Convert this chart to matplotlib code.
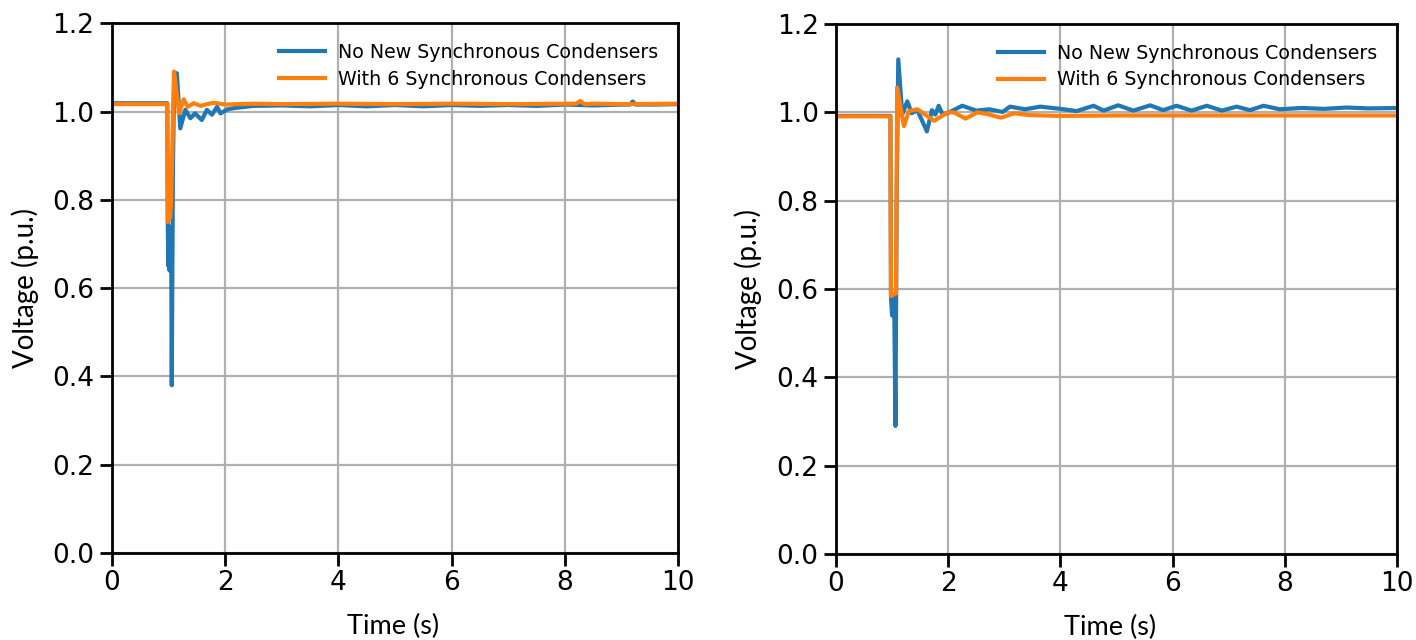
import matplotlib
matplotlib.use("Agg")
import matplotlib.pyplot as plt

# ---- data -------------------------------------------------------------------
labels = ["No New Synchronous Condensers", "With 6 Synchronous Condensers"]

# left panel
t_left_blue = [0.0, 0.98, 0.99, 1.00, 1.01, 1.02, 1.03, 1.04, 1.05, 1.06, 1.08, 1.10,
               1.15, 1.21, 1.30, 1.39, 1.47, 1.59, 1.68, 1.77, 1.86, 1.92, 2.04, 2.16,
               2.5, 3.0, 3.5, 4.0, 4.5, 5.0, 5.5, 6.0, 6.5, 7.0, 7.5, 8.0, 8.5, 9.0,
               9.15, 9.2, 9.25, 9.6, 10.0]
v_left_blue = [1.019, 1.019, 0.74, 0.65, 0.74, 0.64, 0.73, 0.65, 0.70, 0.38, 0.86, 1.06,
               1.087, 0.962, 1.004, 0.985, 0.996, 0.981, 1.004, 0.993, 1.011, 0.996, 1.005, 1.008,
               1.013, 1.014, 1.012, 1.015, 1.012, 1.015, 1.012, 1.015, 1.013, 1.015, 1.013, 1.016, 1.014, 1.016,
               1.016, 1.023, 1.016, 1.016, 1.017]
t_left_orange = [0.0, 0.98, 0.99, 1.03, 1.05, 1.10, 1.19, 1.27, 1.34, 1.45, 1.57, 1.68,
                 1.8, 2.0, 2.5, 3.0, 4.0, 5.0, 6.0, 7.0, 8.2, 8.27, 8.35, 8.5, 9.0, 10.0]
v_left_orange = [1.017, 1.017, 0.75, 0.76, 0.80, 1.091, 0.996, 1.028, 1.011, 1.019, 1.013, 1.017,
                 1.020, 1.016, 1.018, 1.017, 1.018, 1.017, 1.018, 1.017, 1.018, 1.024, 1.017, 1.018, 1.017, 1.018]

# right panel
t_right_blue = [0.0, 0.97, 0.98, 1.00, 1.02, 1.04, 1.06, 1.08, 1.11, 1.18, 1.27, 1.35,
                1.45, 1.62, 1.71, 1.77, 1.83, 1.90, 2.00, 2.25, 2.50, 2.73, 2.97, 3.10,
                3.37, 3.64, 4.0, 4.29, 4.59, 4.77, 5.03, 5.30, 5.60, 5.83, 6.07, 6.34,
                6.61, 6.88, 7.14, 7.38, 7.62, 7.91, 8.3, 8.7, 9.1, 9.5, 10.0]
v_right_blue = [0.992, 0.992, 0.58, 0.54, 0.58, 0.54, 0.29, 0.80, 1.12, 0.995, 1.025, 0.998,
                1.005, 0.957, 1.005, 0.995, 1.015, 0.995, 0.999, 1.015, 1.004, 1.007, 1.001, 1.013,
                1.007, 1.013, 1.008, 1.003, 1.015, 1.004, 1.016, 1.004, 1.016, 1.005, 1.015, 1.004,
                1.015, 1.004, 1.013, 1.005, 1.015, 1.007, 1.010, 1.008, 1.011, 1.009, 1.010]
t_right_orange = [0.0, 0.97, 0.98, 1.07, 1.09, 1.21, 1.30, 1.45, 1.75, 1.99, 2.10, 2.31,
                  2.52, 2.70, 2.94, 3.18, 3.42, 3.7, 4.0, 5.0, 6.0, 7.0, 8.0, 9.0, 10.0]
v_right_orange = [0.991, 0.991, 0.584, 0.59, 1.056, 0.969, 1.003, 1.007, 0.981, 1.000, 1.000, 0.986,
                  1.000, 0.996, 0.988, 0.998, 0.994, 0.993, 0.992, 0.993, 0.993, 0.993, 0.993, 0.993, 0.993]

xticks = [0, 2, 4, 6, 8, 10]
yticks = [0.0, 0.2, 0.4, 0.6, 0.8, 1.0, 1.2]

blue = "#1f77b4"
orange = "#ff7f0e"

fig = plt.figure(figsize=(14.16, 6.4), dpi=100)
ax1 = fig.add_axes([0.0789, 0.136, 0.400, 0.8275])
ax2 = fig.add_axes([0.5904, 0.1344, 0.3962, 0.828])

panels = [
    (ax1, t_left_blue, v_left_blue, t_left_orange, v_left_orange, -0.128, 0.497),
    (ax2, t_right_blue, v_right_blue, t_right_orange, v_right_orange, -0.132, 0.488),
]

for ax, tb, vb, to, vo, ylab_x, xlab_x in panels:
    ax.plot(tb, vb, color=blue, lw=3, label=labels[0])
    ax.plot(to, vo, color=orange, lw=3, label=labels[1])
    ax.set_xlim(0, 10)
    ax.set_ylim(0, 1.2)
    ax.set_xticks(xticks)
    ax.set_yticks(yticks)
    ax.set_yticklabels([f"{v:.1f}" for v in yticks])
    ax.grid(True, color="#b0b0b0", lw=1.6)
    ax.set_axisbelow(True)
    for sp in ax.spines.values():
        sp.set_linewidth(2)
        sp.set_color("black")
    ax.tick_params(labelsize=19, length=9, width=2, colors="black")
    ax.set_ylabel("Voltage (p.u.)", fontsize=20, family="Lato")
    ax.set_xlabel("Time (s)", fontsize=19.5, family="Lato")
    ax.yaxis.set_label_coords(ylab_x, 0.5)
    ax.xaxis.set_label_coords(xlab_x, -0.115)
    ax.legend(loc="upper right", frameon=False, fontsize=13.7,
              handlelength=2.4, handletextpad=0.7, labelspacing=0.4,
              bbox_to_anchor=(0.995, 0.995))

fig.savefig("out.png", dpi=100)
